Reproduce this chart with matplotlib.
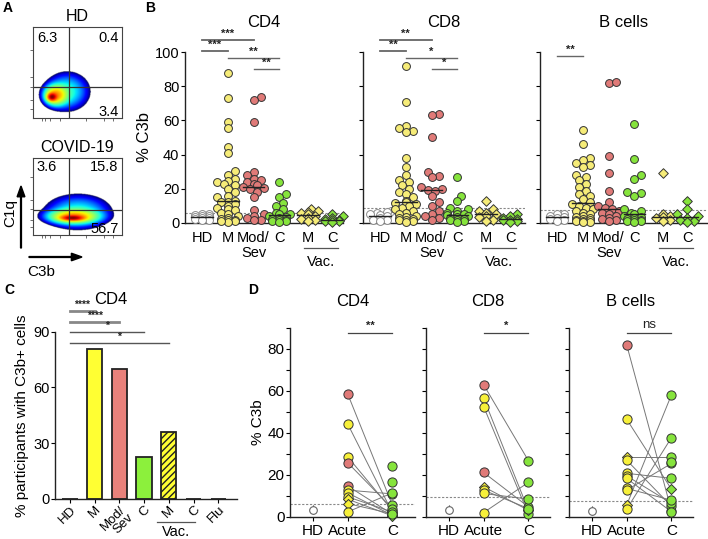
import numpy as np
import matplotlib
matplotlib.use('Agg')
import matplotlib.pyplot as plt
from matplotlib.transforms import blended_transform_factory

plt.rcParams['font.family'] = ['Liberation Sans', 'DejaVu Sans']

W, H = 708, 539
fig = plt.figure(figsize=(W / 100, H / 100), dpi=100)

YEL = '#f6ec78'
RED = '#e07a78'
GRN = '#86e43c'
EDGE = '#333333'

# ---------------- data ----------------
# panel A: density blobs (axes fraction)
hd_bx = [0.21, 0.25, 0.38]
hd_by = [0.23, 0.25, 0.29]
hd_bsx = [0.03, 0.07, 0.14]
hd_bsy = [0.025, 0.06, 0.12]
hd_bw = [1.0, 0.45, 0.12]
hd_quad = ['6.3', '0.4', '3.4']

cov_bx = [0.44, 0.45, 0.50]
cov_by = [0.22, 0.24, 0.30]
cov_bsx = [0.07, 0.15, 0.21]
cov_bsy = [0.02, 0.05, 0.13]
cov_bw = [1.0, 0.45, 0.12]
cov_quad = ['3.6', '15.8', '56.7']

# panel B
b_groups = ['HD', 'M', 'Mod/\nSev', 'C', 'M', 'C']
hd_cd4 = [5.5, 5, 4.5, 4, 4, 3.5, 3, 3, 2.5, 2, 1.5]
m_cd4 = [87.5, 73, 59, 55.5, 44.5, 41, 30.5, 28, 25.5, 24.5, 24, 23, 22, 20, 18, 16, 15, 13,
         12.5, 12, 11, 10, 9, 8, 7.5, 6, 5, 4, 3, 2.5, 2, 1.5, 1, 0.5, 1]
mod_cd4 = [73.5, 72, 59, 30, 28, 26, 25, 24, 23, 22, 21, 20.5, 20, 18, 15, 7.5, 5, 4, 3, 2, 1.5]
c_cd4 = [24, 17, 15, 11.5, 10, 8, 6, 5, 5, 4, 3.5, 3, 2.5, 2, 1.5, 1, 1, 0.5]
mv_cd4 = [8, 7, 6.5, 6, 5, 4, 3, 2.5, 1.5, 1]
cv_cd4 = [5, 4, 3, 2.5, 2, 1.5, 1, 1, 0.5]

hd_cd8 = [7, 6.5, 6, 5, 4.5, 4, 3, 2, 1.5, 1]
m_cd8 = [92, 71, 57, 55.5, 54, 53, 38, 33, 28, 25, 24, 22, 20, 18, 17, 15, 13, 12, 11.5, 11,
         10, 9, 8, 7, 6, 5, 4, 3.5, 3, 2.5, 2, 1.5, 1, 0.5]
mod_cd8 = [63.5, 63, 50.5, 30, 27.5, 27, 21, 20, 19.5, 19, 16, 12, 10, 7, 5, 4, 3, 2]
c_cd8 = [27, 16, 13, 9, 8, 7, 6, 5, 5, 4.5, 4, 3.5, 3, 2.5, 2, 1.5, 1, 0.5]
mv_cd8 = [13, 8, 7, 6, 5, 4, 3.5, 2, 1]
cv_cd8 = [5, 4, 3, 2.5, 2, 1.5, 1, 0.5]

hd_b = [5.5, 5, 4, 3.5, 3, 2.5, 2, 1]
m_b = [54.5, 46, 38, 37, 35, 34, 33, 28, 27, 25, 23, 21, 19, 17, 16, 14, 12, 11, 10, 9, 8,
       7, 6, 5, 4, 3.5, 3, 2.5, 2, 1.5, 1, 1, 0.5, 0.5]
mod_b = [82, 82.5, 39, 29.5, 18.5, 12, 10, 9, 8, 7, 6, 5, 4, 3, 2.5, 2, 1]
c_b = [58, 37.5, 28, 26, 18, 17.5, 15.5, 8, 7, 6, 5, 4, 3.5, 3, 2.5, 2, 1.5, 1, 1, 0.5]
mv_b = [29, 5, 4, 3.5, 3, 2, 1]
cv_b = [12.8, 8.4, 5, 4, 3, 2, 1, 0.5]

thr_b = [6, 9, 7.5]
sig_cd4 = [(0, 2, 107, '***'), (0, 1, 100.6, '***'), (1, 3, 96.5, '**'), (2, 3, 90, '**')]
sig_cd8 = [(0, 2, 107, '**'), (0, 1, 100.6, '**'), (1, 3, 96.5, '*'), (2, 3, 90, '*')]
sig_b = [(0, 1, 97.7, '**')]

# panel C
c_labels = ['HD', 'M', 'Mod/\nSev', 'C', 'M', 'C', 'Flu']
c_pct = [0, 80.5, 69.8, 22.5, 36, 0, 0]
c_sig = [(0, 1, 101, '****'), (0, 2, 95.4, '****'), (0, 3, 89.7, '*'), (0, 4, 83.7, '*')]

# panel D (acute -> convalescent pairs, nan = unpaired)
d4_acute = [58.7, 44.4, 28.7, 25.9, 14.8, 12.8, 11.5, 9.6, 8.5, 6.4, 2.4, np.nan, np.nan]
d4_conv = [5.6, 2.0, 3.0, 4.0, 1.3, 11.0, 0.8, 2.4, 0.5, 1.5, 11.5, 24.3, 16.8]
d4_sev = [1, 0, 0, 1, 1, 0, 0, 0, 0, 0, 0, 0, 0]
d4_adia = [0, 0, 0, 0, 0, 0, 0, 0, 1, 1, 0, 0, 0]
d4_cdia = [0, 0, 0, 0, 0, 0, 1, 0, 1, 0, 0, 0, 0]

d8_acute = [63, 56.6, 52.6, 21.2, 14.4, 12.8, 11.2, 2.1]
d8_conv = [26.8, 3.2, 1.3, 4.8, 3.2, 4.0, 8.5, 16.5]
d8_sev = [1, 0, 0, 1, 0, 0, 0, 0]
d8_adia = [0, 0, 0, 0, 1, 0, 0, 0]
d8_cdia = [0, 0, 0, 0, 1, 0, 0, 0]

db_acute = [82.1, 46.6, 28.7, 27.1, 20.8, 19.6, 18.4, 13.6, 12.8, 5.6, 3.7, np.nan]
db_conv = [3.0, 13.2, 28.7, 5.1, 18.4, 6.5, 2.5, 8.0, 25.5, 58.2, 37.8, 26.3]
db_sev = [1, 0, 0, 0, 0, 0, 0, 0, 0, 0, 0, 0]
db_adia = [0, 0, 1, 0, 0, 0, 0, 0, 0, 1, 0, 0]
db_cdia = [0, 1, 0, 0, 0, 0, 0, 0, 0, 0, 0, 0]

d_hd = [3.5, 3.5, 3.0]
d_thr = [6, 9.4, 7.7]
d_sig = ['**', '*', 'ns']


def px_axes(x0, y0, x1, y1):
    return fig.add_axes([x0 / W, 1 - y1 / H, (x1 - x0) / W, (y1 - y0) / H])


def swarm(vals, ppu_y, d=7.0, maxw=12.0):
    # simple beeswarm offsets, returned in pixels
    ypx = np.asarray(vals, float) * ppu_y
    order = np.argsort(ypx)
    placed = []
    offs = np.zeros(len(ypx))
    cands = [0.0]
    k = 1
    while k * d * 0.5 <= maxw:
        cands += [k * d * 0.5, -k * d * 0.5]
        k += 1
    for i in order:
        best = None
        for o in cands:
            if all((o - po) ** 2 + (ypx[i] - py) ** 2 >= (0.8 * d) ** 2 for po, py in placed):
                best = o
                break
        if best is None:
            best = min(cands, key=lambda o: sum((o - po) ** 2 + (ypx[i] - py) ** 2 < (0.8 * d) ** 2
                                                 for po, py in placed))
        placed.append((best, ypx[i]))
        offs[i] = best
    return offs


def style(ax):
    for s in ['top', 'right']:
        ax.spines[s].set_visible(False)
    for s in ['left', 'bottom']:
        ax.spines[s].set_linewidth(1.0)
        ax.spines[s].set_color('#222222')


def bracket(ax, x0, x1, y, txt, lw=1.0, col='#666666', fs=8, dy=1.0, weight='bold'):
    ax.plot([x0, x1], [y, y], color=col, lw=lw, clip_on=False)
    ax.text((x0 + x1) / 2, y + dy, txt, ha='center', va='bottom', fontsize=fs,
            fontweight=weight, color='#222222', clip_on=False)


def vac_mark(ax, x0, x1, yl, yt, fs):
    tr = blended_transform_factory(ax.transData, ax.transAxes)
    ax.plot([x0, x1], [yl, yl], color='#555555', lw=0.9, transform=tr, clip_on=False)
    ax.text((x0 + x1) / 2, yt, 'Vac.', transform=tr, ha='center', va='center', fontsize=fs)


# ---------------- panel A ----------------
def flow(box, title, bx, by, bsx, bsy, bw, qx, qy, quad, qpos):
    ax = px_axes(*box)
    g = np.linspace(0, 1, 240)
    X, Y = np.meshgrid(g, g)
    Z = np.zeros_like(X)
    for cx, cy, sx, sy, w in zip(bx, by, bsx, bsy, bw):
        Z += w * np.exp(-0.5 * ((X - cx) / sx) ** 2 - 0.5 * ((Y - cy) / sy) ** 2)
    Z = Z / Z.max()
    Zm = np.ma.masked_less(Z, 0.015)
    ax.imshow(np.log10(Zm), origin='lower', extent=(0, 1, 0, 1), cmap='jet',
              vmin=-1.8, vmax=0, aspect='auto', interpolation='bilinear')
    ax.axvline(qx, color='#333333', lw=0.9)
    ax.axhline(qy, color='#333333', lw=0.9)
    ax.set_xlim(0, 1)
    ax.set_ylim(0, 1)
    ax.set_xticks([0.1, 0.14, 0.19, 0.3, 0.6, 0.8, 0.9])
    ax.set_yticks([0.1, 0.2, 0.34, 0.45, 0.75])
    ax.tick_params(length=2, width=0.6, labelbottom=False, labelleft=False, color='#555555')
    for s in ax.spines.values():
        s.set_linewidth(0.8)
        s.set_color('#444444')
    ax.set_title(title, fontsize=11.5, pad=4)
    for t, (x, y, ha) in zip(quad, qpos):
        ax.text(x, y, t, transform=ax.transAxes, ha=ha, va='center', fontsize=10.5)
    return ax


flow((33, 27, 122, 118), 'HD', hd_bx, hd_by, hd_bsx, hd_bsy, hd_bw, 0.4, 0.34, hd_quad,
     [(0.05, 0.88, 'left'), (0.96, 0.88, 'right'), (0.96, 0.07, 'right')])
flow((33, 158, 122, 235), 'COVID-19', cov_bx, cov_by, cov_bsx, cov_bsy, cov_bw, 0.4, 0.32, cov_quad,
     [(0.04, 0.88, 'left'), (0.96, 0.88, 'right'), (0.96, 0.08, 'right')])

fig.patches.append(matplotlib.patches.FancyArrow(21 / W, 1 - 248 / H, 0, 62 / H, width=0.0012,
                                                 head_width=0.011, head_length=0.02,
                                                 length_includes_head=True, color='black',
                                                 transform=fig.transFigure))
fig.patches.append(matplotlib.patches.FancyArrow(29 / W, 1 - 257 / H, 53 / W, 0, width=0.0016,
                                                 head_width=0.014, head_length=0.015,
                                                 length_includes_head=True, color='black',
                                                 transform=fig.transFigure))
fig.text(10 / W, 1 - 213 / H, 'C1q', rotation=90, ha='center', va='center', fontsize=11)
fig.text(41 / W, 1 - 272 / H, 'C3b', ha='center', va='center', fontsize=11)

# ---------------- panel B ----------------
pos_b = [0, 1, 2, 3, 4.1, 5.05]
b_sets = [
    ('CD4', (185, 52, 343, 223), [hd_cd4, m_cd4, mod_cd4, c_cd4, mv_cd4, cv_cd4], thr_b[0], sig_cd4),
    ('CD8', (363, 52, 525, 223), [hd_cd8, m_cd8, mod_cd8, c_cd8, mv_cd8, cv_cd8], thr_b[1], sig_cd8),
    ('B cells', (540, 52, 707, 223), [hd_b, m_b, mod_b, c_b, mv_b, cv_b], thr_b[2], sig_b),
]
fills = ['white', YEL, RED, GRN, YEL, GRN]
marks = ['o', 'o', 'o', 'o', 'D', 'D']
ppu_x = 25.8
for j, (name, box, groups, thr, sigs) in enumerate(b_sets):
    ax = px_axes(*box)
    wpx = box[2] - box[0]
    x_lo = -17 / ppu_x
    ax.set_xlim(x_lo, x_lo + wpx / ppu_x)
    ax.set_ylim(0, 100)
    ppu_y = (box[3] - box[1]) / 100.0
    ax.axhline(thr, color='#888888', lw=0.8, ls=(0, (2, 1.5)), zorder=1)
    for p, vals, fc, mk in zip(pos_b, groups, fills, marks):
        off = swarm(vals, ppu_y, d=7.0, maxw=13) / ppu_x
        ec = '#888888' if fc == 'white' else EDGE
        ax.scatter(np.array(p) + off, vals, s=32 if mk == 'o' else 24, marker=mk, facecolor=fc,
                   edgecolor=ec, linewidth=0.7, zorder=3, clip_on=False)
        med = np.median(vals)
        ax.plot([p - 0.42, p + 0.42], [med, med], color='#222222', lw=1.0, zorder=4)
    for x0, x1, y, t in sigs:
        bracket(ax, pos_b[x0], pos_b[x1], y, t, lw=1.0 if y < 100 else 1.3, dy=0.8)
    ax.set_xticks(pos_b)
    ax.set_xticklabels(b_groups, fontsize=10.5, linespacing=1.05)
    ax.tick_params(axis='x', length=0, pad=6)
    ax.set_yticks([0, 20, 40, 60, 80, 100])
    ax.tick_params(axis='y', length=3, width=0.8, labelsize=10.5, pad=1)
    if j > 0:
        ax.set_yticklabels([])
    else:
        ax.set_ylabel('% C3b', fontsize=12, labelpad=2)
    style(ax)
    ax.set_title(name, fontsize=12, pad=18)
    vac_mark(ax, 3.95, 5.27, -0.146, -0.228, 10.5)

# ---------------- panel C ----------------
axc = px_axes(55, 331.7, 237, 499)
pos_c = np.arange(len(c_pct))
axc.set_xlim(-0.61, 6.76)
axc.set_ylim(0, 90)
bar_fc = ['white', '#ffff33', '#e8817b', '#8cf03c', '#ffff33', 'white', 'white']
for p, v, fc in zip(pos_c, c_pct, bar_fc):
    axc.bar(p, v, width=0.62, color=fc, edgecolor='#222222', linewidth=1.3,
            hatch='/////' if p == 4 else None, zorder=2)
for x0, x1, y, t in c_sig:
    bracket(axc, x0, x1, y, t, lw=2.0 if y > 90 else 1.0, col='#888888' if y > 90 else '#555555',
            fs=7.5, dy=0.6)
axc.set_xticks(pos_c)
axc.set_xticklabels(c_labels, rotation=45, ha='right', rotation_mode='anchor', fontsize=9.5,
                    linespacing=0.85)
axc.tick_params(axis='x', length=3, width=0.8, pad=0.5)
axc.set_yticks([0, 30, 60, 90])
axc.tick_params(axis='y', length=3, width=0.8, labelsize=10.5, pad=1)
axc.set_ylabel('% participants with C3b+ cells', fontsize=11, labelpad=3)
style(axc)
fig.text(111 / W, 1 - 299 / H, 'CD4', fontsize=12, ha='center', va='center')
vac_mark(axc, 3.52, 5.06, -0.137, -0.2, 10.5)

# ---------------- panel D ----------------
pos_d = [0, 1, 2.3]
d_sets = [
    ('CD4', (290, 328, 415, 517), d4_acute, d4_conv, d4_sev, d4_adia, d4_cdia),
    ('CD8', (426, 328, 550, 517), d8_acute, d8_conv, d8_sev, d8_adia, d8_cdia),
    ('B cells', (569, 328, 693, 517), db_acute, db_conv, db_sev, db_adia, db_cdia),
]
for j, (name, box, ac, cv, sev, adia, cdia) in enumerate(d_sets):
    ax = px_axes(*box)
    ax.set_xlim(-0.67, -0.67 + (box[2] - box[0]) / 34.5)
    ax.set_ylim(0, 90)
    ax.axhline(d_thr[j], color='#888888', lw=0.8, ls=(0, (2, 1.5)), zorder=1)
    ac = np.array(ac, float)
    cv = np.array(cv, float)
    for a, c in zip(ac, cv):
        if not (np.isnan(a) or np.isnan(c)):
            ax.plot([pos_d[1], pos_d[2]], [a, c], color='#777777', lw=0.7, zorder=2)
    for a, c, s, da, dc in zip(ac, cv, sev, adia, cdia):
        if not np.isnan(a):
            ax.scatter(pos_d[1], a, s=26 if da else 44, marker='D' if da else 'o',
                       facecolor=RED if s else '#f7f03a', edgecolor=EDGE, linewidth=0.7,
                       zorder=3, clip_on=False)
        if not np.isnan(c):
            ax.scatter(pos_d[2], c, s=26 if dc else 44, marker='D' if dc else 'o',
                       facecolor=GRN, edgecolor=EDGE, linewidth=0.7, zorder=3, clip_on=False)
    ax.errorbar(pos_d[0], d_hd[j], yerr=2.2, fmt='o', ms=5.5, mfc='white', mec='#666666',
                mew=0.8, ecolor='#333333', elinewidth=0.8, capsize=0, zorder=3)
    bracket(ax, pos_d[1], pos_d[2], 87.8, d_sig[j], lw=0.9, col='#444444',
            fs=8 if j < 2 else 9.5, dy=1.0, weight='bold' if j < 2 else 'normal')
    ax.set_xticks(pos_d)
    ax.set_xticklabels(['HD', 'Acute', 'C'], fontsize=11)
    ax.tick_params(axis='x', length=3, width=0.8, pad=2)
    ax.set_yticks([0, 20, 40, 60, 80])
    ax.set_yticks([10, 30, 50, 70, 90], minor=True)
    ax.tick_params(axis='y', which='both', length=3, width=0.8, labelsize=11, pad=1)
    if j > 0:
        ax.set_yticklabels([])
    else:
        ax.set_ylabel('% C3b', fontsize=11, labelpad=2)
    style(ax)
    ax.set_title(name, fontsize=12, pad=16)

# panel letters
for lab, x, y in [('A', 8, 8), ('B', 150, 8), ('C', 9, 290), ('D', 253, 290)]:
    fig.text(x / W, 1 - y / H, lab, fontsize=10, fontweight='bold', ha='center', va='center')

fig.savefig('out.png', dpi=100)
